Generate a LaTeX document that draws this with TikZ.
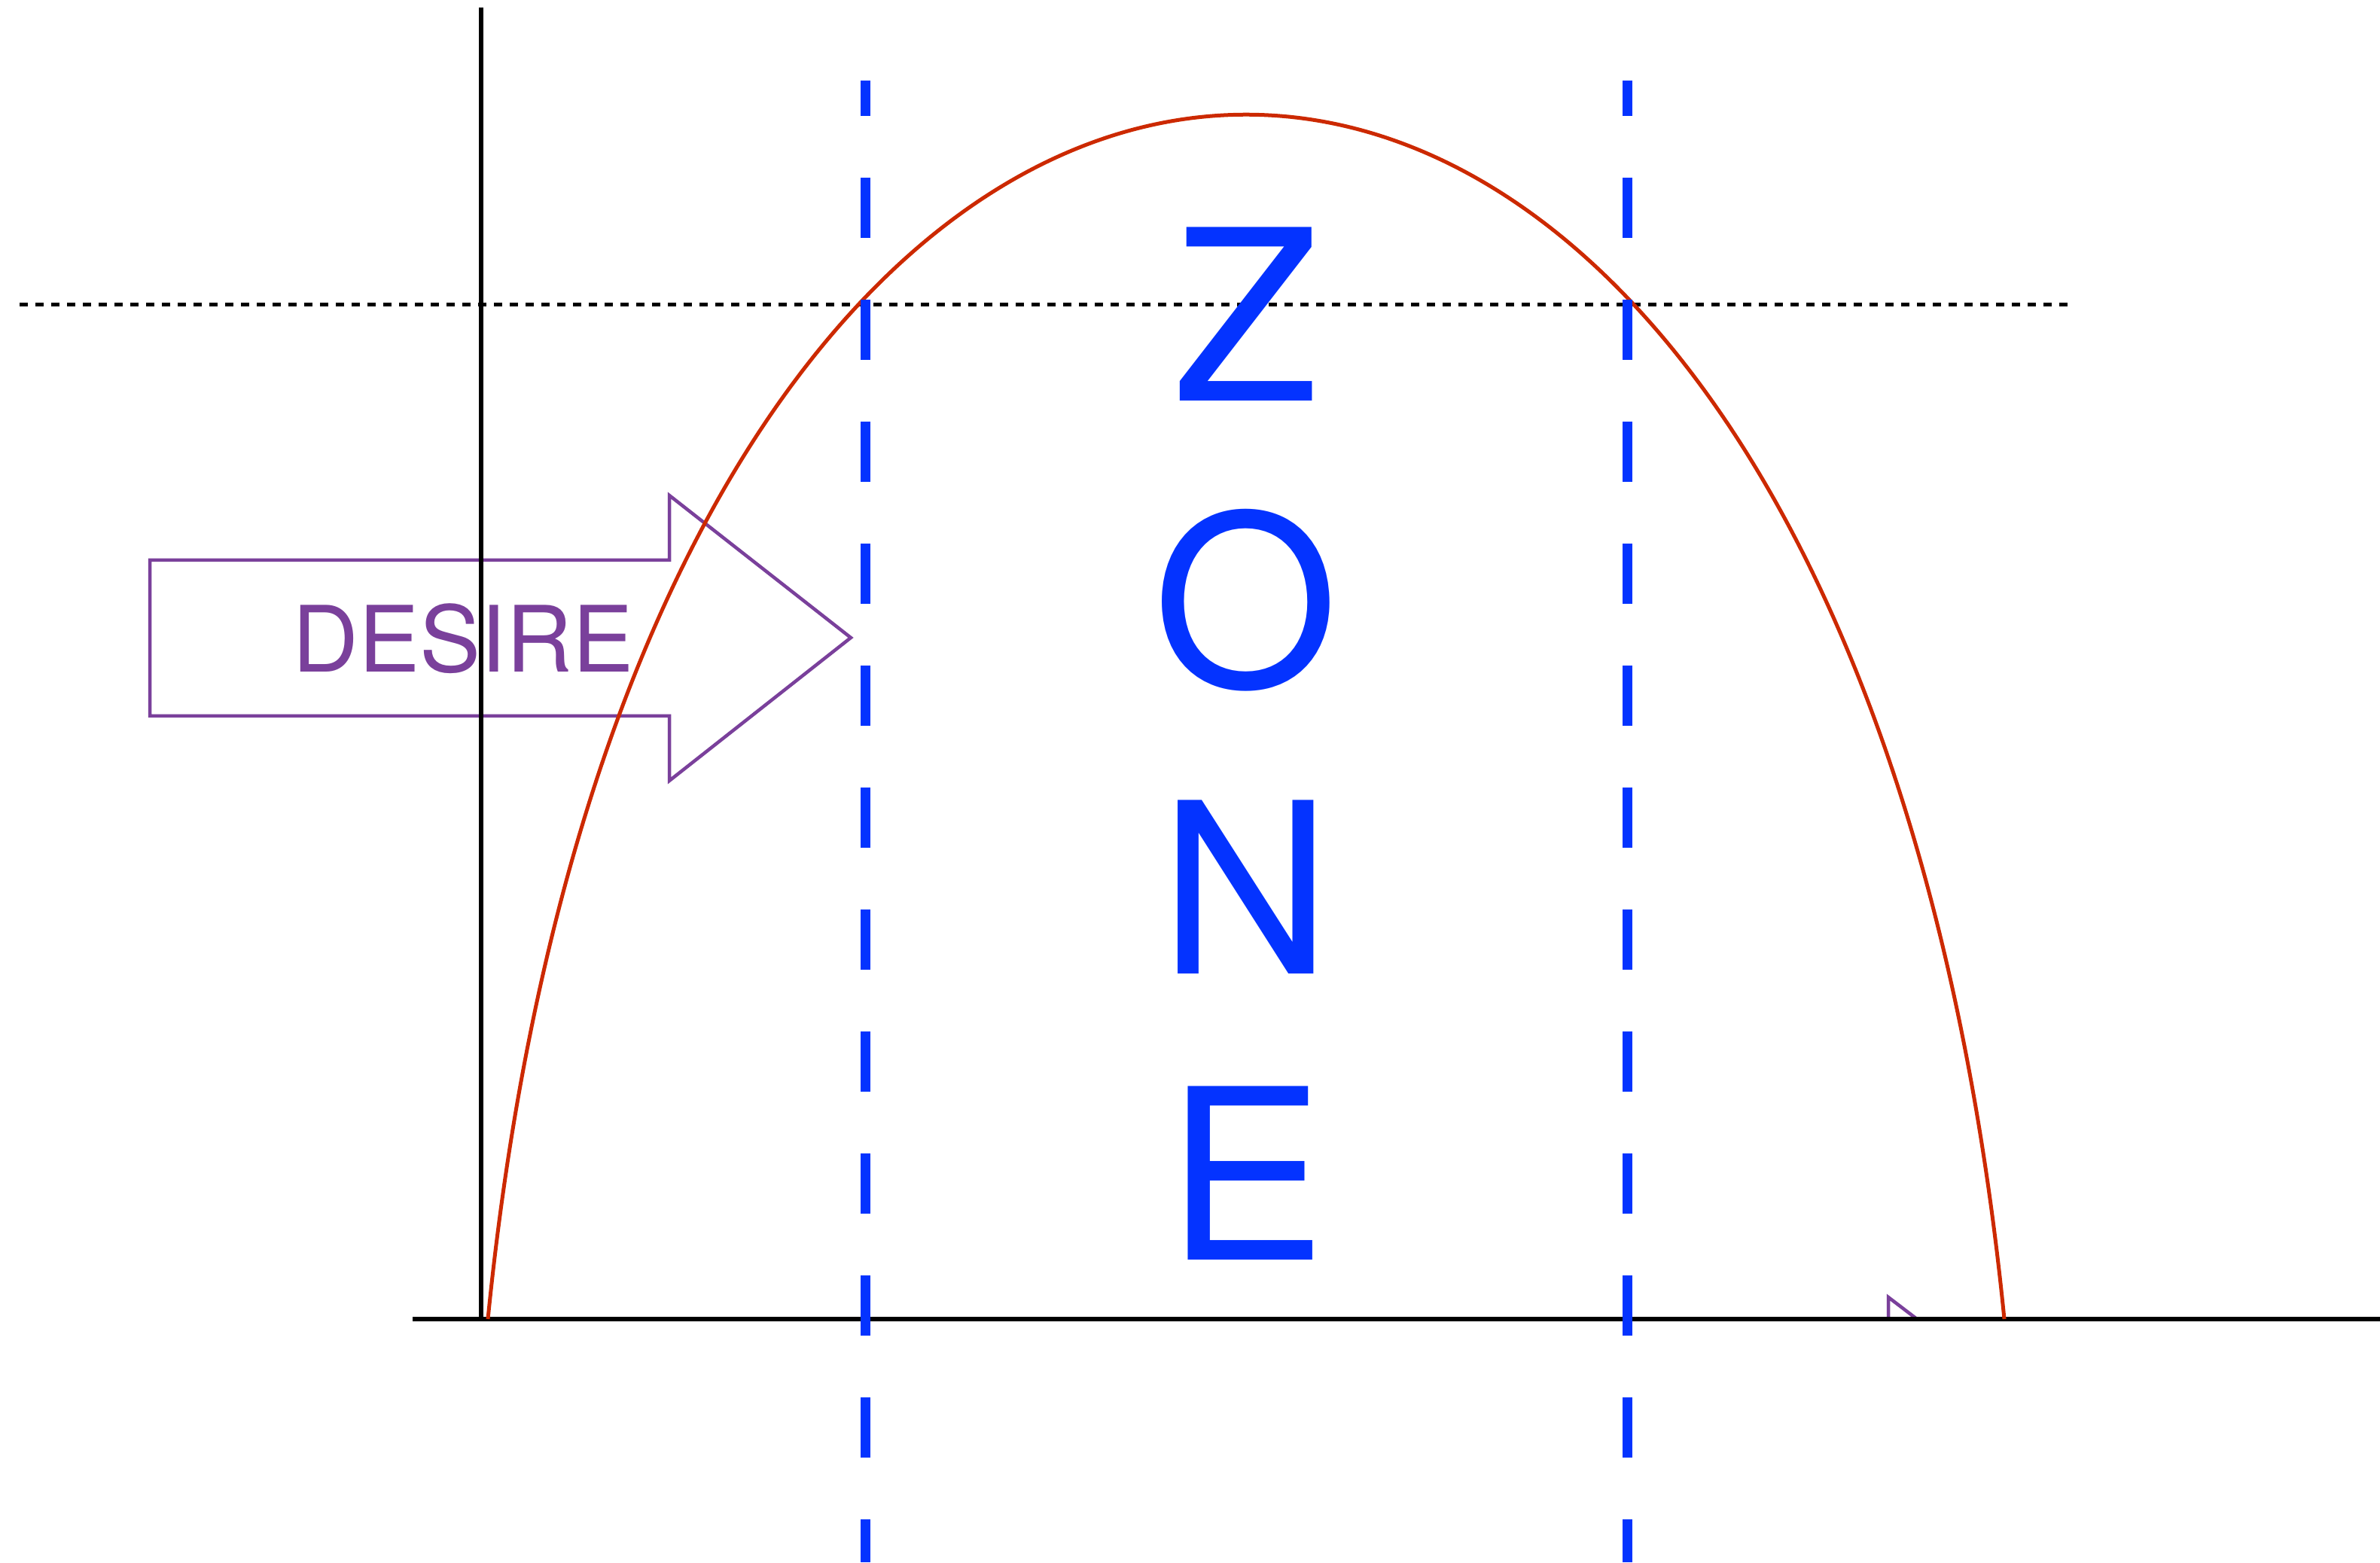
\documentclass[tikz,border=0pt]{standalone}
\usepackage{fontspec}
\setmainfont{TeX Gyre Heros}
\usetikzlibrary{positioning}
\definecolor{zoneblue}{RGB}{4,51,255}
\definecolor{curvered}{RGB}{204,41,0}
\definecolor{desirepurple}{RGB}{122,64,155}

\begin{document}
\begin{tikzpicture}[
  axis/.style={line width=0.6mm},
  limit/.style={zoneblue, line width=1.3mm, dash pattern=on 8mm off 8.2mm, dash phase=3.3mm},
  level/.style={line width=0.5mm, dash pattern=on 1.1mm off 1mm},
  curve/.style={curvered, line width=0.5mm},
  outline/.style={desirepurple, line width=0.45mm, line join=miter},
  letter/.style={text=zoneblue, font=\fontsize{90}{90}\selectfont, inner sep=0pt, text height=2.26cm, text depth=0pt}
]
\useasboundingbox (0,0) rectangle (31.61,20.75);

% target level
\draw[level] (0.26,16.70) -- (27.48,16.70);

% tip of an arrow hidden under the axis
\draw[outline] (25.08,3.23) -- (25.08,3.52) -- (25.46,3.23);

% desire arrow
\draw[outline] (1.99,13.31) -- (8.89,13.31) -- (8.89,14.17) -- (11.30,12.28)
  -- (8.89,10.38) -- (8.89,11.24) -- (1.99,11.24) -- cycle;

% axes
\draw[axis] (6.39,20.65) -- (6.39,3.23);
\draw[axis] (5.48,3.23) -- (31.61,3.23);

% curve
\draw[curve] (6.48,3.23) .. controls (8.61,24.56) and (24.49,24.56) .. (26.62,3.23);

% zone limits
\draw[limit] (11.49,19.68) -- (11.49,0);
\draw[limit] (21.61,19.68) -- (21.61,0);

\node[text=desirepurple, font=\fontsize{34.6}{34.6}\selectfont, anchor=base] (desire) at (6.15,11.82) {DESIRE};

\node[letter, anchor=south] (z) at (16.55,15.42) {Z};
\node[letter, below=1.53cm of z] (o) {O};
\node[letter, below=1.53cm of o] (n) {N};
\node[letter, below=1.53cm of n] (e) {E};
\end{tikzpicture}
\end{document}
